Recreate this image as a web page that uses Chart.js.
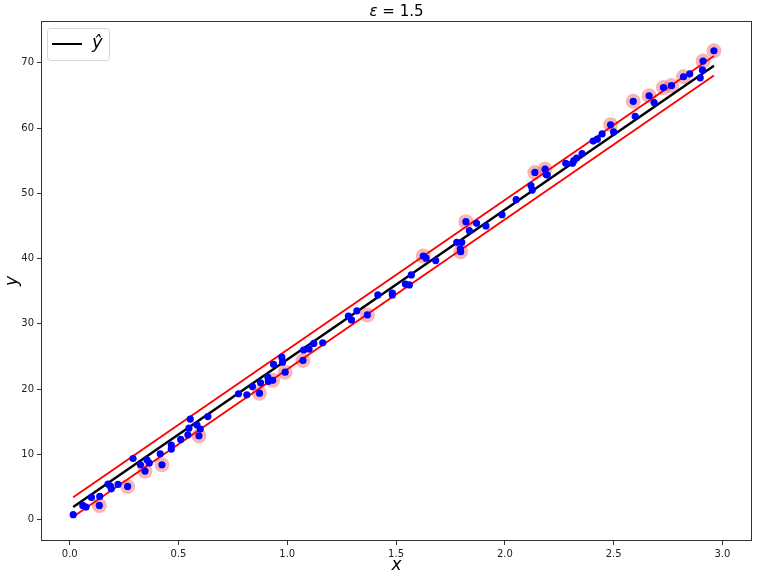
<!DOCTYPE html>
<html>
<head>
<meta charset="utf-8">
<script src="https://cdn.jsdelivr.net/npm/chart.js@4"></script>
<style>
  body { margin: 0; background: #fff; }
</style>
</head>
<body>
<canvas id="svrChart" width="764" height="578"></canvas>
<script>
let ctx = document.querySelector("#svrChart");

// observed samples (blue dots)
const xData = [
  0.016, 0.06, 0.075, 0.1, 0.136, 0.138, 0.176, 0.187, 0.191, 0.222,
  0.266, 0.291, 0.325, 0.346, 0.355, 0.366, 0.416, 0.424, 0.467, 0.467,
  0.51, 0.543, 0.548, 0.554, 0.585, 0.594, 0.6, 0.635, 0.776, 0.814,
  0.84, 0.872, 0.877, 0.911, 0.913, 0.933, 0.937, 0.975, 0.978, 0.99,
  1.072, 1.075, 1.1, 1.122, 1.163, 1.281, 1.295, 1.32, 1.368, 1.416,
  1.483, 1.483, 1.543, 1.561, 1.57, 1.625, 1.638, 1.682, 1.779, 1.795,
  1.797, 1.802, 1.821, 1.837, 1.87, 1.913, 1.987, 2.052, 2.12, 2.126,
  2.138, 2.185, 2.19, 2.195, 2.28, 2.311, 2.317, 2.33, 2.355, 2.406,
  2.425, 2.447, 2.486, 2.5, 2.59, 2.599, 2.663, 2.686, 2.729, 2.766,
  2.821, 2.85, 2.898, 2.908, 2.911, 2.961,
];
const yData = [
  0.77, 2.19, 1.94, 3.42, 2.19, 3.57, 5.46, 5.16, 4.74, 5.4,
  5.1, 9.38, 8.42, 7.45, 9.18, 8.68, 10.1, 8.42, 11.43, 10.82,
  12.3, 13.0, 14.03, 15.4, 14.5, 12.86, 13.88, 15.8, 19.3, 19.13,
  20.4, 19.39, 20.97, 21.8, 21.2, 21.35, 23.8, 24.9, 24.14, 22.6,
  24.4, 26.0, 26.17, 27.0, 27.1, 31.18, 30.6, 32.0, 31.38, 34.44,
  34.7, 34.44, 36.1, 35.97, 37.5, 40.4, 40.06, 39.7, 42.5, 41.5,
  41.07, 42.5, 45.66, 44.28, 45.4, 45.0, 46.73, 49.03, 51.2, 50.5,
  53.2, 53.7, 52.9, 52.8, 54.6, 54.6, 55.0, 55.4, 56.1, 58.0,
  58.3, 59.1, 60.5, 59.4, 64.1, 61.8, 64.95, 63.9, 66.2, 66.5,
  67.86, 68.3, 67.7, 68.9, 70.26, 71.84,
];

// support vectors (pink rings)
const svX = [
  0.136, 0.266, 0.346, 0.424, 0.594, 0.872, 0.933, 0.99, 1.072, 1.368,
  1.625, 1.797, 1.821, 2.138, 2.185, 2.486, 2.59, 2.663, 2.729, 2.766,
  2.821, 2.911, 2.961,
];
const svY = [
  2.19, 5.1, 7.45, 8.42, 12.86, 19.39, 21.35, 22.6, 24.4, 31.38,
  40.4, 41.07, 45.66, 53.2, 53.7, 60.5, 64.1, 64.95, 66.2, 66.5,
  67.86, 70.26, 71.84,
];

// fitted line and epsilon tube
const lineX = [0.016, 2.961];
const fitY = [1.95, 69.55];
const upperY = [3.45, 71.05];
const lowerY = [0.45, 68.05];

const xTicks = [0.0, 0.5, 1.0, 1.5, 2.0, 2.5, 3.0];
const yTicks = [0, 10, 20, 30, 40, 50, 60, 70];

function toPoints(xs, ys) {
  return xs.map((x, i) => ({ x: x, y: ys[i] }));
}

// frame, title, axis labels and legend like matplotlib
const decorations = {
  id: "decorations",
  afterDraw(chart) {
    const c = chart.ctx;
    const a = chart.chartArea;
    c.save();
    c.strokeStyle = "#333";
    c.lineWidth = 1;
    c.strokeRect(a.left + 0.5, a.top + 0.5, a.right - a.left - 1, a.bottom - a.top - 1);

    // title: ε = 1.5
    c.fillStyle = "#000";
    c.textBaseline = "middle";
    const f1 = "italic 15px 'DejaVu Sans'";
    const f2 = "15px 'DejaVu Sans'";
    c.font = f1;
    const w1 = c.measureText("ε").width;
    c.font = f2;
    const rest = " = 1.5";
    const w2 = c.measureText(rest).width;
    let tx = (a.left + a.right) / 2 - (w1 + w2) / 2;
    c.textAlign = "left";
    c.font = f1;
    c.fillText("ε", tx, 12);
    c.font = f2;
    c.fillText(rest, tx + w1, 12);

    // axis labels
    c.font = "italic 17px 'DejaVu Sans'";
    c.textAlign = "center";
    c.fillText("x", (a.left + a.right) / 2, 566);
    c.save();
    c.translate(12.5, (a.top + a.bottom) / 2);
    c.rotate(-Math.PI / 2);
    c.fillText("y", 0, 0);
    c.restore();

    // legend
    const bx = 47.5, by = 28.5, bw = 62, bh = 32, r = 3;
    c.beginPath();
    c.moveTo(bx + r, by);
    c.arcTo(bx + bw, by, bx + bw, by + bh, r);
    c.arcTo(bx + bw, by + bh, bx, by + bh, r);
    c.arcTo(bx, by + bh, bx, by, r);
    c.arcTo(bx, by, bx + bw, by, r);
    c.closePath();
    c.fillStyle = "rgba(255,255,255,0.8)";
    c.fill();
    c.strokeStyle = "#d6d6d6";
    c.stroke();
    c.beginPath();
    c.moveTo(52, 44);
    c.lineTo(82, 44);
    c.strokeStyle = "#000";
    c.lineWidth = 2;
    c.stroke();
    c.fillStyle = "#000";
    c.font = "italic 18px 'DejaVu Sans'";
    c.textAlign = "left";
    c.fillText("ŷ", 92, 43);
    c.restore();
  },
};

new Chart(ctx, {
  type: "scatter",
  data: {
    datasets: [
      {
        label: "samples",
        data: toPoints(xData, yData),
        backgroundColor: "#0000ff",
        borderWidth: 0,
        pointRadius: 3.6,
        order: 0,
      },
      {
        label: "ŷ",
        data: toPoints(lineX, fitY),
        showLine: true,
        borderColor: "#000",
        borderWidth: 2.5,
        pointRadius: 0,
        order: 1,
      },
      {
        label: "upper",
        data: toPoints(lineX, upperY),
        showLine: true,
        borderColor: "#ff0000",
        borderWidth: 1.9,
        pointRadius: 0,
        order: 2,
      },
      {
        label: "lower",
        data: toPoints(lineX, lowerY),
        showLine: true,
        borderColor: "#ff0000",
        borderWidth: 1.9,
        pointRadius: 0,
        order: 2,
      },
      {
        label: "support vectors",
        data: toPoints(svX, svY),
        backgroundColor: "rgba(240,110,110,0.5)",
        borderWidth: 0,
        pointRadius: 7.5,
        order: 3,
      },
    ],
  },
  options: {
    responsive: false,
    animation: false,
    layout: {
      padding: { top: 21, right: 12, left: 0, bottom: 0 },
    },
    plugins: {
      legend: { display: false },
      tooltip: { enabled: false },
    },
    scales: {
      x: {
        type: "linear",
        min: -0.132,
        max: 3.136,
        afterBuildTicks: (axis) => {
          axis.ticks = xTicks.map((v) => ({ value: v }));
        },
        afterFit: (axis) => {
          axis.height = 37;
        },
        grid: {
          drawOnChartArea: false,
          drawTicks: true,
          tickLength: 4,
          color: "#333",
        },
        border: { display: false },
        ticks: {
          padding: 3,
          maxRotation: 0,
          color: "#222",
          font: { family: "DejaVu Sans", size: 10 },
          callback: (v) => v.toFixed(1),
        },
      },
      y: {
        type: "linear",
        min: -3.26,
        max: 76.4,
        afterBuildTicks: (axis) => {
          axis.ticks = yTicks.map((v) => ({ value: v }));
        },
        afterFit: (axis) => {
          axis.width = 41;
        },
        grid: {
          drawOnChartArea: false,
          drawTicks: true,
          tickLength: 4,
          color: "#333",
        },
        border: { display: false },
        ticks: {
          padding: 3,
          color: "#222",
          font: { family: "DejaVu Sans", size: 10 },
          callback: (v) => String(v),
        },
      },
    },
  },
  plugins: [decorations],
});
</script>
</body>
</html>
